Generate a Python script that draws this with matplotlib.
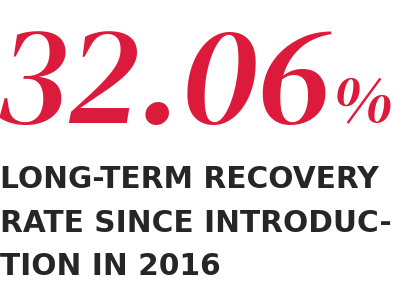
import matplotlib
matplotlib.use("Agg")
import matplotlib.pyplot as plt

big_value = "32.06"
big_unit = "%"
caption_lines = ["LONG-TERM RECOVERY", "RATE SINCE INTRODUC-", "TION IN 2016"]

red = "#dc1a3c"
dark = "#262626"

fig = plt.figure(figsize=(4.07, 2.97), dpi=100)
fig.patch.set_facecolor("white")

serif = ["DM Serif Display", "Liberation Serif", "DejaVu Serif"]
sans = ["DejaVu Sans"]

# big number
t = fig.text(-0.008, 1 - 123 / 297, big_value, fontsize=101, color=red, family=serif,
             style="italic", va="baseline", ha="left")
fig.canvas.draw()
bb = t.get_window_extent()
x_end = bb.x1 / fig.bbox.width
fig.text(x_end - 0.003, 1 - 123 / 297, big_unit, fontsize=50, color=red, family=serif,
         style="italic", va="baseline", ha="left")

# caption
y0 = 1 - 188 / 297
for i, line in enumerate(caption_lines):
    fig.text(0.0, y0 - i * 43.5 / 297, line, fontsize=21.3, color=dark, family=sans,
             weight="bold", va="baseline", ha="left")

fig.savefig("out.png", dpi=100, facecolor="white")
